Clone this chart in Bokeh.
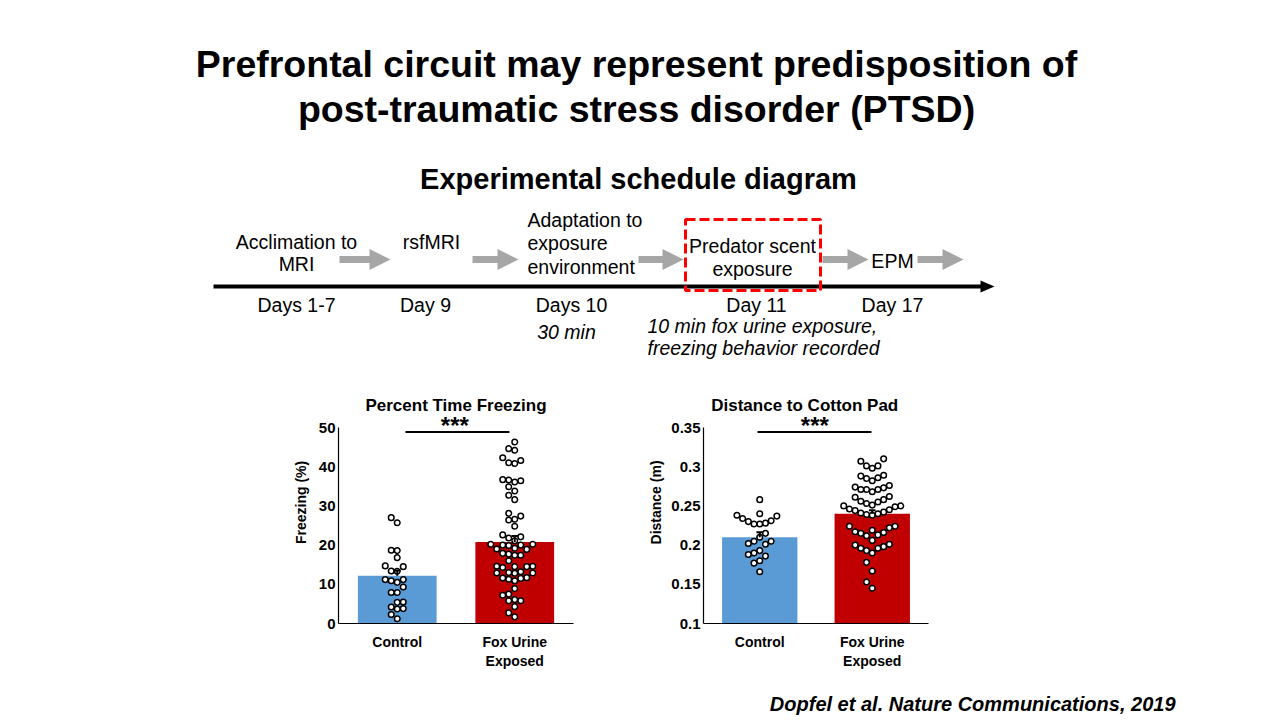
import math
from bokeh.plotting import figure
from bokeh.models import Range1d, FactorRange, FixedTicker, CustomJSTickFormatter, Spacer
from bokeh.layouts import column, row
from bokeh.core.properties import value
from bokeh.embed import file_html
from bokeh.resources import INLINE

# ---------------- data ----------------
groups = ["Control", "Fox Urine\nExposed"]

freezing_ctrl = [27.0, 25.7, 18.6, 18.7, 16.8, 14.7, 14.5, 13.4, 13.3, 11.2, 10.5, 10.9,
                 11.2, 9.3, 7.9, 7.9, 5.4, 5.5, 4.2, 3.7, 3.8, 2.3, 1.2]
freezing_fox = [46.3, 44.6, 44.2, 42.3, 41.6, 41.0, 40.8, 36.7, 36.6, 36.4, 36.1, 34.9,
                33.8, 32.7, 31.6, 28.1, 27.4, 26.6, 26.4, 24.8, 22.6, 22.1, 21.8, 21.1,
                20.2, 20.2, 20.0, 20.0, 19.9, 19.2, 19.0, 18.9, 17.9, 17.7, 17.4, 17.4,
                16.0, 14.6, 14.6, 14.5, 14.5, 14.3, 13.2, 13.0, 12.9, 12.9, 12.8, 11.7,
                11.6, 11.5, 11.3, 10.9, 8.9, 7.5, 7.2, 6.1, 5.8, 5.8, 4.3, 2.7, 1.7]
freezing_mean = [12.2, 20.8]
freezing_sem = [1.3, 1.5]
freezing_ticks = [0, 10, 20, 30, 40, 50]

dist_ctrl = [0.258, 0.240, 0.238, 0.237, 0.234, 0.231, 0.230, 0.228, 0.227, 0.227, 0.215,
             0.210, 0.205, 0.205, 0.202, 0.201, 0.193, 0.190, 0.188, 0.186, 0.180, 0.177, 0.166]
dist_fox = [0.310, 0.307, 0.301, 0.301, 0.298,
            0.289, 0.288, 0.286, 0.285, 0.282,
            0.276, 0.274, 0.273, 0.271, 0.271, 0.271, 0.268,
            0.262, 0.261, 0.258, 0.256, 0.255,
            0.253, 0.251, 0.250, 0.250, 0.249,
            0.246, 0.245, 0.244, 0.242,
            0.241, 0.240, 0.239, 0.238,
            0.224, 0.224, 0.222, 0.219, 0.217, 0.216, 0.215, 0.213, 0.212,
            0.206, 0.201, 0.200, 0.198, 0.196, 0.196, 0.193, 0.190,
            0.178, 0.167, 0.153, 0.145]
dist_mean = [0.210, 0.240]
dist_sem = [0.0065, 0.0045]
dist_ticks = [0.1, 0.15, 0.2, 0.25, 0.3, 0.35]

title_lines = ["Prefrontal circuit may represent predisposition of",
               "post-traumatic stress disorder (PTSD)"]
schedule_title = "Experimental schedule diagram"
day_labels = ["Days 1-7", "Day 9", "Days 10", "Day 11", "Day 17"]
citation = "Dopfel et al. Nature Communications, 2019"

FONT = "Liberation Sans"
BLUE = "#5B9BD5"
RED = "#C00000"
GRAY = "#A6A6A6"


def txt(p, x, y, s, size, style="normal", align="center", baseline="middle", color="black",
        angle=0.0):
    p.text(x=[x], y=[y], text=[s], text_font=value(FONT), text_font_size=value(size),
           text_font_style=style, text_align=align, text_baseline=baseline, text_color=color,
           angle=angle)


def blank(width, height, x0, x1, y0, y1):
    p = figure(width=width, height=height, x_range=Range1d(x0, x1), y_range=Range1d(y1, y0),
               output_backend="svg", toolbar_location=None, min_border=0,
               x_axis_location=None, y_axis_location=None)
    p.grid.visible = False
    p.outline_line_color = None
    return p


# ---------------- header (slide title + schedule diagram) ----------------
hdr = blank(1264, 390, 0, 1264, 0, 390)
txt(hdr, 636, 63, title_lines[0], "37.5px", "bold")
txt(hdr, 636, 108, title_lines[1], "37.5px", "bold")
txt(hdr, 638, 178, schedule_title, "29px", "bold")

# gray block arrows
arrow_x0 = [339, 472, 638, 822, 917]
arrow_x1 = [390, 518, 683, 868, 963]
arrow_y = 259
xs, ys = [], []
for a, b in zip(arrow_x0, arrow_x1):
    h = b - 21
    xs.append([a, h, h, b, h, h, a])
    ys.append([arrow_y - 3.5, arrow_y - 3.5, arrow_y - 10.5, arrow_y, arrow_y + 10.5,
               arrow_y + 3.5, arrow_y + 3.5])
hdr.patches(xs=xs, ys=ys, fill_color=GRAY, line_color=None)

# timeline
hdr.segment(x0=[213], y0=[286], x1=[982], y1=[286], line_color="black", line_width=4)
hdr.patch(x=[980, 994, 980], y=[280, 286, 292], fill_color="black", line_color=None)

# step labels
S = "19.5px"
txt(hdr, 296, 241, "Acclimation to", S)
txt(hdr, 296, 263, "MRI", S)
txt(hdr, 431, 241, "rsfMRI", S)
txt(hdr, 527, 219, "Adaptation to", S, align="left")
txt(hdr, 527, 242, "exposure", S, align="left")
txt(hdr, 527, 266, "environment", S, align="left")
txt(hdr, 752, 245, "Predator scent", S)
txt(hdr, 752, 268, "exposure", S)
txt(hdr, 892, 260, "EPM", S)

day_x = [296, 425, 571, 756, 892]
for dx, lab in zip(day_x, day_labels):
    txt(hdr, dx, 304, lab, S)

txt(hdr, 566, 331, "30 min", S, style="italic")
txt(hdr, 647, 325, "10 min fox urine exposure,", S, style="italic", align="left")
txt(hdr, 647, 347, "freezing behavior recorded", S, style="italic", align="left")

# red dashed highlight box
hdr.quad(left=[685], right=[820], top=[219], bottom=[290], fill_color=None,
         line_color="#FF0000", line_width=3, line_dash="10 4")


# ---------------- bar + dot charts ----------------
def swarm(vals, px_per_unit, px_per_x, step_px, min_px):
    order = sorted(range(len(vals)), key=lambda i: vals[i])
    placed = []
    offs = [0.0] * len(vals)
    cands = [0, -1, 1, -2, 2, -3, 3, -4, 4, -5, 5, -6, 6]
    for i in order:
        y = vals[i] * px_per_unit
        col = 0
        for c in cands:
            if all(not (pc == c and abs(py - y) < min_px) for pc, py in placed):
                col = c
                break
        placed.append((col, y))
        offs[i] = col * step_px / px_per_x
    return offs


def chart(width, left, right, ctrl, fox, means, sems, ticks, title, title_x,
          sig_x0, sig_x1, star_x, step_px, min_px):
    frame_w = width - left - right
    frame_h = 282 - 49
    axis_px = 196.0
    span = ticks[-1] - ticks[0]
    scale = axis_px / span               # px per data unit (vertical)
    ymin = ticks[0]
    ymax = ymin + frame_h / scale
    px_x = frame_w / 2.0
    bottom_px = 623.3

    def py(ypx):
        return ymin + (bottom_px - ypx) / scale

    p = figure(width=width, height=282, x_range=FactorRange(factors=groups, range_padding=0),
               y_range=Range1d(ymin, ymax), output_backend="svg", toolbar_location=None,
               min_border_left=left, min_border_right=right, min_border_top=0,
               min_border_bottom=49)
    p.grid.visible = False
    p.outline_line_color = None
    p.background_fill_color = "white"

    p.vbar(x=groups, top=means, bottom=0, width=0.67, fill_color=[BLUE, RED],
           line_color=None)

    for k, vals in enumerate([ctrl, fox]):
        offs = swarm(vals, scale, px_x, step_px, min_px)
        p.scatter(x=[k + 0.5 + o for o in offs], y=vals, size=5.6, marker="circle",
                  fill_color="white", line_color="black", line_width=1.5)

    ex = [0.5, 1.5]
    tops = [m + s for m, s in zip(means, sems)]
    cap = 3.3 / px_x
    p.segment(x0=ex, y0=means, x1=ex, y1=tops, line_color="black", line_width=2)
    p.segment(x0=[e - cap for e in ex], y0=tops, x1=[e + cap for e in ex], y1=tops,
              line_color="black", line_width=2)

    # significance bar and stars
    p.segment(x0=[sig_x0], y0=[py(431.7)], x1=[sig_x1], y1=[py(431.7)],
              line_color="black", line_width=2)
    p.text(x=[star_x], y=[py(425.0)], text=["***"], text_font=value(FONT),
           text_font_size=value("24px"), text_font_style="bold", text_align="center",
           text_baseline="alphabetic", text_color="black")
    p.text(x=[title_x], y=[py(405.5)], text=[title], text_font=value(FONT),
           text_font_size=value("17px"), text_font_style="bold", text_align="center",
           text_baseline="middle", text_color="black")

    # axes
    p.yaxis.ticker = FixedTicker(ticks=ticks)
    p.yaxis.formatter = CustomJSTickFormatter(code="return tick.toString();")
    p.yaxis.bounds = (ticks[0], ticks[-1])
    for ax in (p.xaxis[0], p.yaxis[0]):
        ax.major_tick_line_color = None
        ax.minor_tick_line_color = None
        ax.major_tick_out = 0
        ax.major_tick_in = 0
        ax.axis_line_color = "black"
        ax.axis_line_width = 1.2
        ax.major_label_text_font = FONT
        ax.major_label_text_font_style = "bold"
        ax.major_label_text_color = "black"
    p.yaxis.major_label_text_font_size = "15px"
    p.yaxis.major_label_standoff = 3
    p.xaxis.major_label_text_font_size = "14px"
    p.xaxis.major_label_standoff = 10
    return p


def ylabel_fig(text, x0, x1):
    # narrow strip holding the rotated y-axis title (page coordinates 390..672)
    f = blank(x1 - x0, 282, x0, x1, 390, 672)
    txt(f, (x0 + x1) / 2.0, 525.5, text, "14px", style="bold", angle=math.pi / 2)
    return f


c1 = chart(290, 28, 27, freezing_ctrl, freezing_fox, freezing_mean, freezing_sem,
           freezing_ticks, "Percent Time Freezing", 1.0, 0.57, 1.455, 0.99, 6.0, 6.4)
c2 = chart(295, 38, 32, dist_ctrl, dist_fox, dist_mean, dist_sem,
           dist_ticks, "Distance to Cotton Pad", 0.9, 0.48, 1.493, 0.99, 5.7, 9.5)
l1 = ylabel_fig("Freezing (%)", 290, 310)
l2 = ylabel_fig("Distance (m)", 645, 665)

# ---------------- footer ----------------
ftr = blank(1264, 44, 0, 1264, 672, 716)
txt(ftr, 1175, 703, citation, "20px", style="bold italic", align="right")

layout = column(hdr,
                row(Spacer(width=290, height=282), l1, c1, Spacer(width=45, height=282),
                    l2, c2, Spacer(width=304, height=282)),
                ftr)

open("out.html", "w").write(file_html(layout, INLINE))
